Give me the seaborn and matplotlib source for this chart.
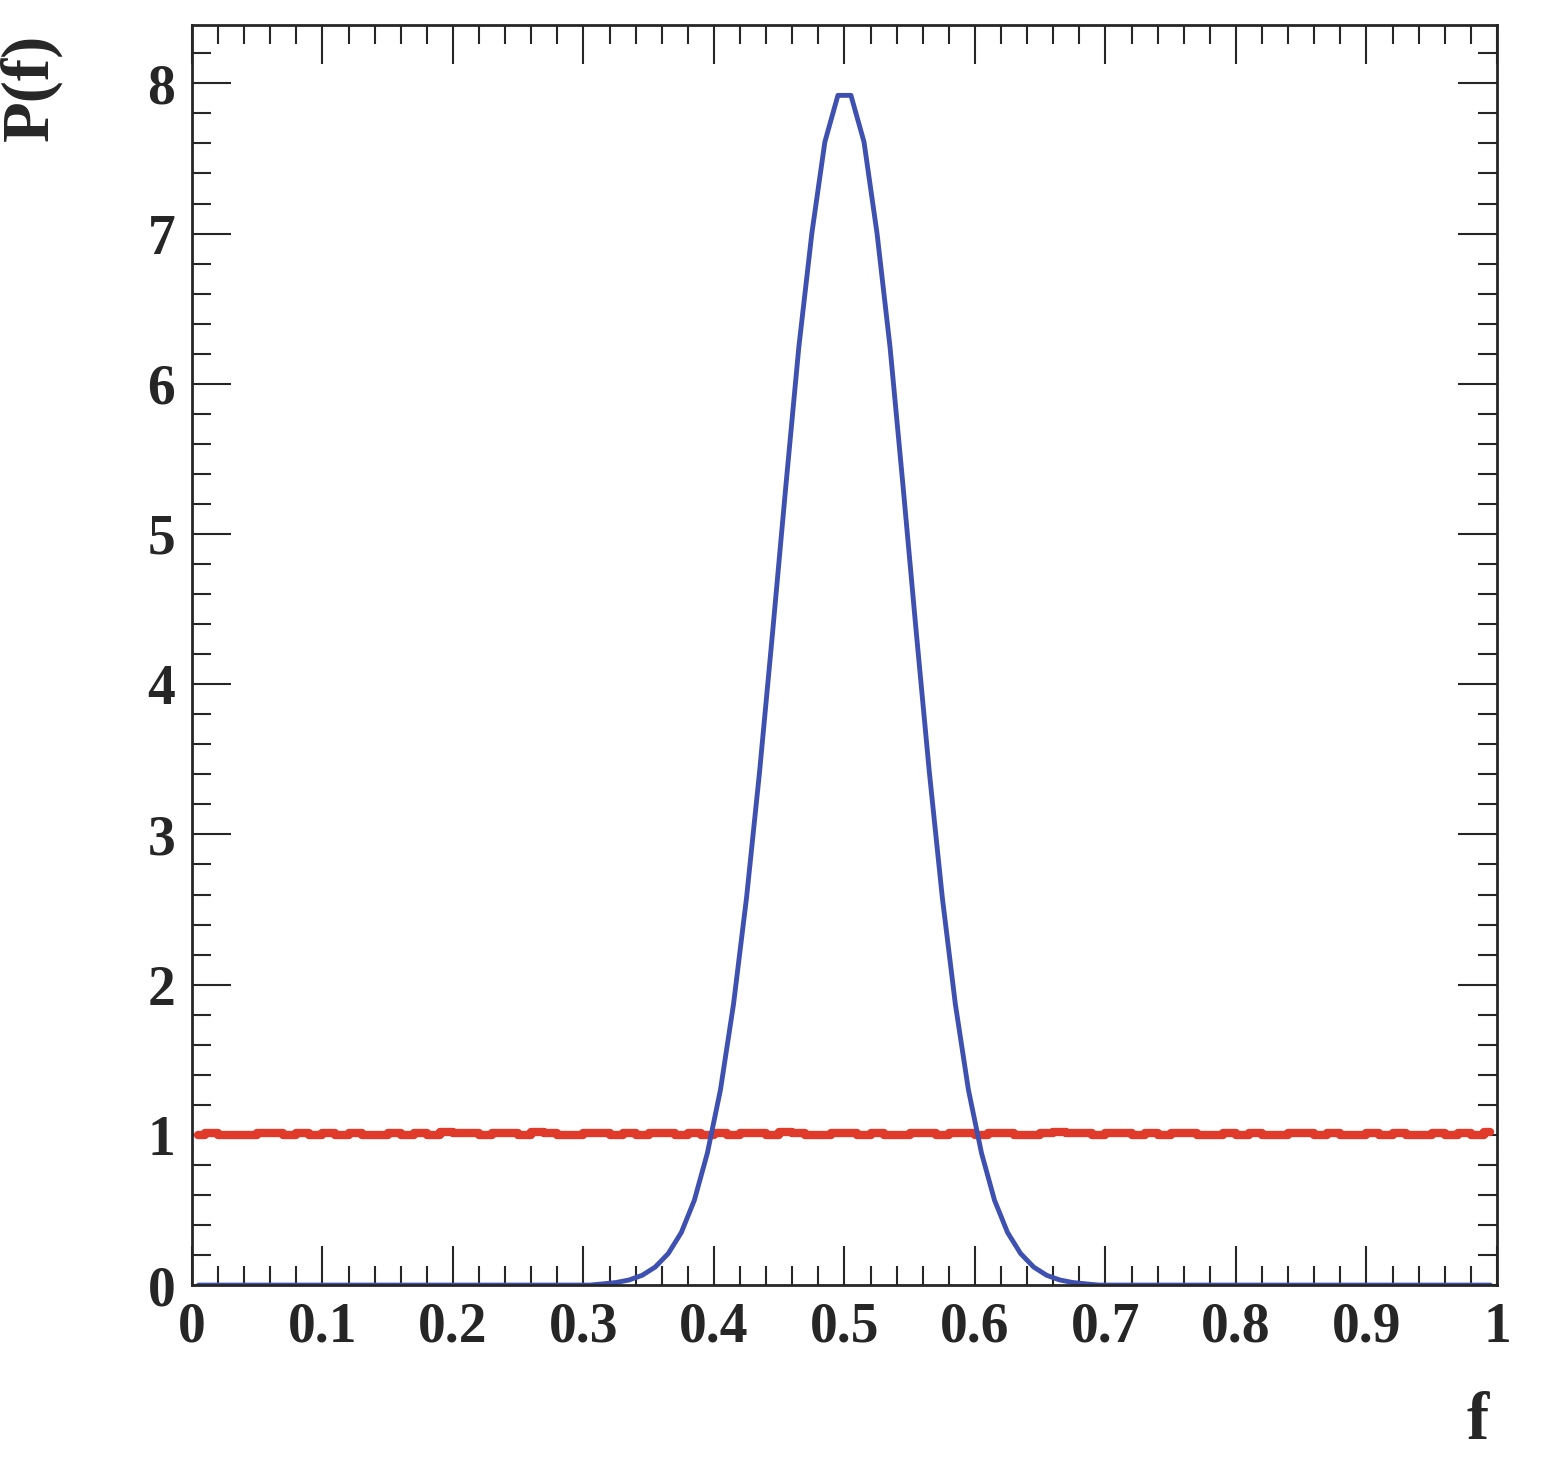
import numpy as np
import pandas as pd
import seaborn as sns
import matplotlib.pyplot as plt
from matplotlib.ticker import MultipleLocator

# bin centres 0.005 ... 0.995
f_bins = [round(0.005 + 0.01 * i, 3) for i in range(100)]

# blue curve (non-zero part around the peak)
peak_vals = [0.008, 0.017, 0.034, 0.065, 0.12, 0.21, 0.35, 0.565, 0.88, 1.30,
             1.87, 2.58, 3.42, 4.35, 5.31, 6.24, 7.0, 7.61, 7.92,
             7.92, 7.61, 7.0, 6.24, 5.31, 4.35, 3.42, 2.58, 1.87, 1.30,
             0.88, 0.565, 0.35, 0.21, 0.12, 0.065, 0.034, 0.017, 0.008]
blue = [0.0] * 31 + peak_vals + [0.0] * 31

# red, flat distribution with small fluctuations
red = [1.00, 1.01, 1.00, 1.00, 1.00, 1.01, 1.01, 1.00, 1.01, 1.00,
       1.01, 1.00, 1.01, 1.00, 1.00, 1.01, 1.00, 1.01, 1.00, 1.02,
       1.01, 1.01, 1.00, 1.01, 1.01, 1.00, 1.02, 1.01, 1.00, 1.00,
       1.01, 1.01, 1.00, 1.01, 1.00, 1.01, 1.01, 1.00, 1.01, 1.00,
       1.01, 1.00, 1.01, 1.01, 1.00, 1.02, 1.01, 1.00, 1.00, 1.01,
       1.01, 1.00, 1.01, 1.00, 1.00, 1.01, 1.01, 1.00, 1.01, 1.01,
       1.00, 1.01, 1.01, 1.00, 1.00, 1.01, 1.02, 1.01, 1.01, 1.00,
       1.01, 1.01, 1.00, 1.01, 1.00, 1.01, 1.01, 1.00, 1.00, 1.01,
       1.00, 1.01, 1.00, 1.00, 1.01, 1.01, 1.00, 1.01, 1.00, 1.00,
       1.01, 1.00, 1.01, 1.00, 1.00, 1.01, 1.00, 1.01, 1.00, 1.02]

df = pd.DataFrame({"f": f_bins, "blue": blue, "red": red})

sns.set_style("ticks")
plt.rcParams["font.family"] = ["Liberation Serif", "DejaVu Serif"]
plt.rcParams["font.weight"] = "bold"

fig = plt.figure(figsize=(15.58, 14.57), dpi=100)
ax = fig.add_axes([0.1232, 0.118, 0.8376, 0.865])

sns.lineplot(data=df, x="f", y="red", ax=ax, color="#e03a2a", linewidth=6,
             drawstyle="steps-mid")
sns.lineplot(data=df, x="f", y="blue", ax=ax, color="#3f51b0", linewidth=3.5)

ax.set_xlim(0, 1)
ax.set_ylim(0, 8.39)
ax.xaxis.set_major_locator(MultipleLocator(0.1))
ax.xaxis.set_minor_locator(MultipleLocator(0.02))
ax.yaxis.set_major_locator(MultipleLocator(1))
ax.yaxis.set_minor_locator(MultipleLocator(0.2))
ax.tick_params(which="both", direction="in", top=True, right=True, width=1.5)
ax.tick_params(which="major", length=28, labelsize=40, pad=12)
ax.tick_params(which="minor", length=14)
for s in ax.spines.values():
    s.set_linewidth(2)
ax.set_xticks(np.round(np.arange(0, 1.01, 0.1), 1))
ax.set_xticklabels(["0"] + [f"{v:.1f}" for v in np.arange(0.1, 0.95, 0.1)] + ["1"],
                   fontweight="bold")
ax.set_yticks(range(0, 9))
ax.set_yticklabels([str(i) for i in range(9)], fontweight="bold")

ax.set_xlabel("f", fontsize=48, fontweight="bold")
ax.xaxis.set_label_coords(0.985, -0.085)
ax.set_ylabel("P(f)", fontsize=48, fontweight="bold")
ax.yaxis.set_label_coords(-0.1, 0.95)

fig.savefig("out.png", dpi=100)
